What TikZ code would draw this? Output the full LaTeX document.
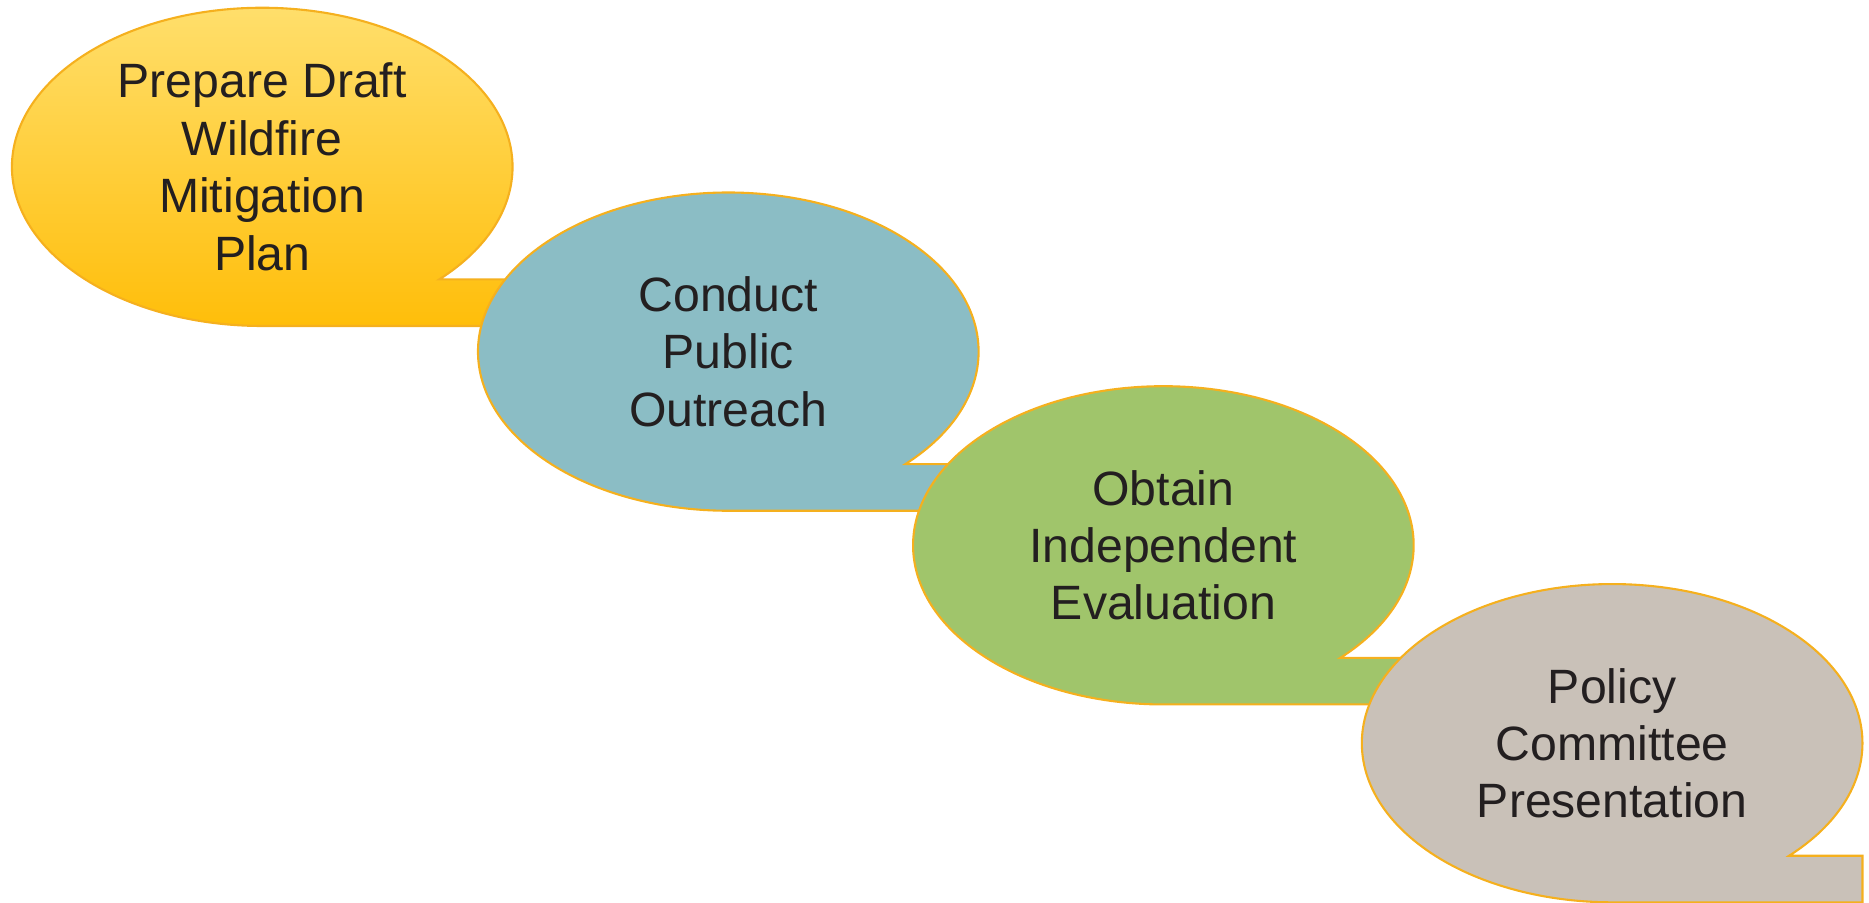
\documentclass[tikz,border=0pt]{standalone}
\usepackage{fontspec}
\setmainfont{Liberation Sans}
\def\radX{21mm}
\def\radY{13.35mm}
\definecolor{rimOrange}{HTML}{F5B01E}
\definecolor{draftTop}{HTML}{FFE070}
\definecolor{draftBottom}{HTML}{FFBE0A}
\definecolor{outreachFill}{HTML}{8BBDC5}
\definecolor{evalFill}{HTML}{A0C56B}
\definecolor{policyFill}{HTML}{C9C1B8}
\definecolor{inkBlack}{HTML}{231F20}

\begin{document}
\begin{tikzpicture}[
    bubble/.style={
      draw=rimOrange, line width=0.5pt, line join=miter
    },
    bubbletext/.style={
      align=center, text=inkBlack, font=\fontsize{11.5}{13.7}\selectfont
    }
  ]
    \useasboundingbox (0,0) rectangle (156.8mm,-75.7mm);

    \def\bubbles{
      22/-14/draft/draftTop/draftBottom,
      61.1/-29.5/outreach/outreachFill/outreachFill,
      97.6/-45.75/evaluation/evalFill/evalFill,
      135.25/-62.35/policy/policyFill/policyFill%
    }

    \foreach \bx / \by / \bname / \topcol / \botcol in \bubbles {
      \coordinate (\bname) at (\bx mm,\by mm);
      \draw[bubble, top color=\topcol, bottom color=\botcol]
        (\bname) ++(0.7071*\radX,-0.7071*\radY)
        arc[start angle=-45, end angle=270, x radius=\radX, y radius=\radY]
        -- ++(\radX,0) -- ++(0,0.2929*\radY) -- cycle;
    }

    \node[bubbletext] (draft text) at (draft) {Prepare Draft\\Wildfire\\Mitigation\\Plan};
    \node[bubbletext] (outreach text) at (outreach) {Conduct\\Public\\Outreach};
    \node[bubbletext] (evaluation text) at (evaluation) {Obtain\\Independent\\Evaluation};
    \node[bubbletext] (policy text) at (policy) {Policy\\Committee\\Presentation};
  \end{tikzpicture}
\end{document}
